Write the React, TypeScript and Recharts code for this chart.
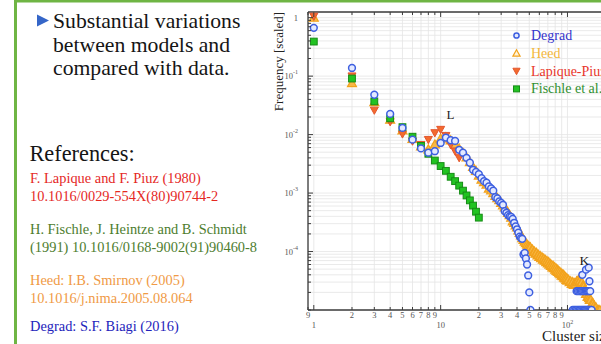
import { CartesianGrid, ReferenceLine, Scatter, ScatterChart, XAxis, YAxis } from "recharts";

// Cluster-size distributions, frequency scaled to the single-electron bin
const degradSize = [
  1, 2, 3, 4, 5, 6, 7, 8, 9, 10, 11, 12, 13, 14, 15, 16, 17, 18, 19, 20,
  21, 22, 23, 24, 25, 26, 27, 28, 29, 30, 31, 32, 33, 34, 35, 36, 37, 38, 39, 40,
  41, 42, 43, 44, 45, 46, 47, 48, 49, 50, 51,
  110, 113, 116, 119, 122, 125, 128, 131, 134, 137, 140, 143, 146, 149, 152, 155,
  118, 121, 124, 127, 130, 133, 136, 139, 142, 145, 148, 151,
  131, 140, 147, 149,
];
const degradFreq = [
  0.67, 0.138, 0.048, 0.0226, 0.013, 0.0082, 0.0058, 0.0049, 0.0052, 0.0072,
  0.0089, 0.008, 0.0078, 0.0055, 0.0049, 0.004, 0.0033, 0.0025, 0.0023, 0.0021,
  0.0018, 0.0016, 0.0015, 0.0013, 0.0012, 0.0011, 0.00085, 0.00081, 0.00072, 0.00068,
  0.00063, 0.00049, 0.00046, 0.00042, 0.0004, 0.00039, 0.00036, 0.00031, 0.00027, 0.00024,
  0.00021, 0.00018, 0.00017, 0.000165, 0.000089, 0.000095, 0.000076, 0.00006, 0.000039, 0.00002,
  0.00001,
  0.00001, 0.00001, 0.00001, 0.00001, 0.00001, 0.00001, 0.00001, 0.00001,
  0.00001, 0.00001, 0.00001, 0.00001, 0.00001, 0.00001, 0.00001, 0.00001,
  0.000021, 0.000021, 0.000021, 0.000021, 0.000021, 0.000021,
  0.000021, 0.000021, 0.000021, 0.000021, 0.000021, 0.000021,
  0.00004, 0.000049, 0.000053, 0.000031,
];

const heedSize = [
  1, 2, 3, 4, 5, 6, 7, 8, 9, 10, 11, 12, 13, 14, 15, 16, 17, 18, 19, 20,
  21, 22, 23, 24, 25, 26, 27, 28, 29, 30, 31, 32, 33, 34, 35, 36, 37, 38, 39, 40,
  41, 42, 43, 44, 45, 46, 47, 48, 49, 50, 51, 52, 53, 54, 55, 56, 57, 58, 59, 60,
  61, 62, 63, 64, 65, 66, 67, 68, 69, 70, 71, 72, 73, 74, 75, 76, 77, 78, 79, 80,
  81, 82, 83, 84, 85, 86, 87, 88, 89, 90, 91, 92, 93, 94, 95, 96, 97, 98, 99, 100,
  102, 104, 106, 108, 110, 112, 114, 116, 118, 120, 122, 124, 126, 128, 130,
  132, 134, 136, 138, 140, 142, 144, 146, 148, 150,
  153, 156, 159, 162, 165, 168, 172, 176, 180,
];
const heedFreq = [
  1.0, 0.076, 0.036, 0.018, 0.0118, 0.0085, 0.0063, 0.0056, 0.0068, 0.0086,
  0.009, 0.008, 0.0068, 0.0058, 0.0049, 0.0041, 0.0034, 0.0028, 0.0024, 0.002,
  0.0017, 0.00155, 0.0014, 0.0012, 0.00112, 0.001, 0.0009, 0.00082, 0.00076, 0.00068,
  0.00062, 0.00057, 0.00052, 0.00046, 0.00042, 0.00038, 0.00033, 0.00031, 0.00028, 0.00026,
  0.00023, 0.00021, 0.00019, 0.00017, 0.000158, 0.000148, 0.00014, 0.000132, 0.000125, 0.00012,
  0.000118, 0.000106, 0.000108, 0.000098, 0.0001, 0.000092, 0.000095, 0.000086, 0.000088, 0.000081,
  0.000084, 0.000077, 0.00008, 0.000073, 0.000076, 0.00007, 0.000072, 0.000066, 0.000069, 0.000063,
  0.000066, 0.00006, 0.000062, 0.000057, 0.000059, 0.000054, 0.000057, 0.000052, 0.000054, 0.000049,
  0.000052, 0.000047, 0.000049, 0.000045, 0.000047, 0.000043, 0.000045, 0.000041, 0.000043, 0.000039,
  0.000041, 0.000038, 0.00004, 0.000036, 0.000038, 0.000035, 0.000036, 0.000033, 0.000035, 0.000032,
  0.000033, 0.00003, 0.000031, 0.000028, 0.00003, 0.000027, 0.000029, 0.000028, 0.000031, 0.00003,
  0.000033, 0.000031, 0.000032, 0.000029, 0.00003,
  0.000026, 0.000025, 0.000022, 0.000021, 0.000019, 0.000019, 0.000017, 0.000017, 0.000016, 0.000015,
  0.000015, 0.000013, 0.000013, 0.000012, 0.000011, 0.000011, 0.00001, 0.00001, 0.00001,
];

const lapiqueSize = [1, 2, 3, 4, 5, 6, 7, 8, 9, 10, 11, 12, 13, 14];
const lapiqueFreq = [
  1.05, 0.1, 0.026, 0.0165, 0.0102, 0.0077, 0.0067, 0.0082, 0.0107, 0.0122,
  0.0096, 0.0067, 0.0052, 0.004,
];

const fischleSize = [1, 2, 3, 4, 5, 6, 7, 8, 9, 10, 11, 12, 13, 14, 15, 16, 17, 18, 19, 20];
const fischleFreq = [
  0.39, 0.091, 0.037, 0.019, 0.0134, 0.0092, 0.0064, 0.0047, 0.0036, 0.0029,
  0.0024, 0.0019, 0.0016, 0.00134, 0.0011, 0.00091, 0.00075, 0.00061, 0.00048, 0.00038,
];

const seriesNames = ["Degrad", "Heed", "Lapique-Piuz", "Fischle et al."];

const xTickValues = [
  0.9, 1, 2, 3, 4, 5, 6, 7, 8, 9, 10, 20, 30, 40, 50, 60, 70, 80, 90, 100, 200, 300,
];
const xTickLabels = [
  "9", "", "2", "3", "4", "5", "6", "7", "8", "9", "", "2", "3", "4", "5", "6", "7", "8", "9", "", "", "",
];
const xDecades = [1, 10, 100];
const xDecadeBase = ["1", "10", "10"];
const xDecadeExp = ["", "", "2"];

const yDecades = [1, 0.1, 0.01, 0.001, 0.0001];
const yDecadeBase = ["1", "10", "10", "10", "10"];
const yDecadeExp = ["", "-1", "-2", "-3", "-4"];
const yTickValues: number[] = [];
for (let e = -5; e <= 0; e++) {
  for (let m = 1; m <= 9; m++) {
    if (e === 0 && m > 1) break;
    yTickValues.push(m * Math.pow(10, e));
  }
}

const SERIF = "'Liberation Serif', 'Times New Roman', 'DejaVu Serif', serif";
const AXIS = "#3c3c3c";
const PLOT_TOP = 12;

const pts = (xs: number[], ys: number[]) => xs.map((size, i) => ({ size, freq: ys[i] }));

const sameValue = (a: number, b: number) => Math.abs(a - b) <= Math.abs(b) * 1e-6;

function XTick(props: any) {
  const { x, y, payload } = props;
  const v = payload.value;
  const i = xTickValues.findIndex((t) => sameValue(t, v));
  const d = xDecades.findIndex((t) => sameValue(t, v));
  const len = d >= 0 ? 5 : 3;
  return (
    <g>
      <line x1={x} x2={x} y1={y} y2={y - len} stroke={AXIS} />
      <line x1={x} x2={x} y1={PLOT_TOP} y2={PLOT_TOP + len} stroke={AXIS} />
      {i >= 0 && xTickLabels[i] && (
        <text x={x} y={y + 8} textAnchor="middle" fontSize={8.5} fill="#555" style={{ fontFamily: SERIF }}>
          {xTickLabels[i]}
        </text>
      )}
      {d >= 0 && (
        <text x={x} y={y + 17.5} textAnchor="middle" fontSize={8.5} fill="#555" style={{ fontFamily: SERIF }}>
          {xDecadeBase[d]}
          {xDecadeExp[d] && (
            <tspan dy={-4} fontSize={6}>
              {xDecadeExp[d]}
            </tspan>
          )}
        </text>
      )}
    </g>
  );
}

function YTick(props: any) {
  const { x, y, payload } = props;
  const v = payload.value;
  const d = yDecades.findIndex((t) => sameValue(t, v));
  const len = d >= 0 ? 5 : 3;
  return (
    <g>
      <line x1={x} x2={x + len} y1={y} y2={y} stroke={AXIS} />
      {d >= 0 && (
        <text x={x - 10} y={y + 3} textAnchor="end" fontSize={8.5} fill="#555" style={{ fontFamily: SERIF }}>
          {yDecadeBase[d]}
          {yDecadeExp[d] && (
            <tspan dy={-5} fontSize={6}>
              {yDecadeExp[d]}
            </tspan>
          )}
        </text>
      )}
    </g>
  );
}

const DEGRAD = { stroke: "#3d5fe0", fill: "#e3e9ff" };
const HEED = { stroke: "#f2a21c", fill: "#f8b846" };
const LAPIQUE = { stroke: "#e4572e", fill: "#f26a2e" };
const FISCHLE = { stroke: "#168c16", fill: "#22c322" };

const circle = (cx: number, cy: number, r: number) => (
  <circle cx={cx} cy={cy} r={r} fill={DEGRAD.fill} stroke={DEGRAD.stroke} strokeWidth={1.5} />
);
const triUp = (cx: number, cy: number, s: number, fill = HEED.fill) => (
  <polygon
    points={`${cx},${cy - s} ${cx + s},${cy + s * 0.8} ${cx - s},${cy + s * 0.8}`}
    fill={fill}
    stroke={HEED.stroke}
    strokeWidth={1.2}
  />
);
const triDown = (cx: number, cy: number, s: number) => (
  <polygon
    points={`${cx - s},${cy - s * 0.8} ${cx + s},${cy - s * 0.8} ${cx},${cy + s}`}
    fill={LAPIQUE.fill}
    stroke={LAPIQUE.stroke}
    strokeWidth={1}
  />
);
const square = (cx: number, cy: number, s: number) => (
  <rect x={cx - s} y={cy - s} width={s * 2} height={s * 2} fill={FISCHLE.fill} stroke={FISCHLE.stroke} strokeWidth={1} />
);

const legendMarks = [
  (cx: number, cy: number) => circle(cx, cy, 2.6),
  (cx: number, cy: number) => triUp(cx, cy, 3.6, "#fff4d8"),
  (cx: number, cy: number) => triDown(cx, cy, 3.6),
  (cx: number, cy: number) => square(cx, cy, 3),
];
const legendColors = ["#3434cc", "#f3b73c", "#e8352a", "#2f8f2f"];

const refs = [
  { lines: ["F. Lapique and F. Piuz (1980)", "10.1016/0029-554X(80)90744-2"], color: "#e5281f", y: 182.5 },
  { lines: ["H. Fischle, J. Heintze and B. Schmidt", "(1991) 10.1016/0168-9002(91)90460-8"], color: "#4d7d2e", y: 233.5 },
  { lines: ["Heed: I.B. Smirnov (2005)", "10.1016/j.nima.2005.08.064"], color: "#f09a45", y: 284.5 },
  { lines: ["Degrad: S.F. Biagi (2016)"], color: "#2323bb", y: 330.5 },
];

export default function App() {
  return (
    <div
      style={{
        position: "fixed",
        left: 0,
        top: 0,
        width: 601,
        height: 344,
        overflow: "hidden",
        background: "#fff",
      }}
    >
      <div style={{ position: "absolute", left: 260, top: 0 }}>
        <ScatterChart width={380} height={344} margin={{ top: PLOT_TOP, right: 12, bottom: 0, left: 0 }}>
          <CartesianGrid stroke="#e4e4e4" strokeWidth={0.8} />
          <XAxis
            dataKey="size"
            type="number"
            scale="log"
            domain={[0.9, 300]}
            allowDataOverflow
            ticks={xTickValues}
            interval={0}
            height={34}
            tickSize={0}
            tickMargin={0}
            tickLine={false}
            axisLine={{ stroke: AXIS, strokeWidth: 1.3 }}
            tick={(p: any) => <XTick {...p} />}
          />
          <YAxis
            dataKey="freq"
            type="number"
            scale="log"
            domain={[0.00001, 1.25]}
            allowDataOverflow
            ticks={yTickValues}
            interval={0}
            width={48}
            tickSize={0}
            tickMargin={0}
            tickLine={false}
            axisLine={{ stroke: AXIS, strokeWidth: 1.3 }}
            tick={(p: any) => <YTick {...p} />}
          />
          <ReferenceLine y={1.25} stroke={AXIS} strokeWidth={1.3} />
          <Scatter
            name={seriesNames[1]}
            data={pts(heedSize, heedFreq)}
            isAnimationActive={false}
            shape={(p: any) => triUp(p.cx, p.cy, 4.5)}
          />
          <Scatter
            name={seriesNames[2]}
            data={pts(lapiqueSize, lapiqueFreq)}
            isAnimationActive={false}
            shape={(p: any) => triDown(p.cx, p.cy, 4)}
          />
          <Scatter
            name={seriesNames[3]}
            data={pts(fischleSize, fischleFreq)}
            isAnimationActive={false}
            shape={(p: any) => square(p.cx, p.cy, 3.4)}
          />
          <Scatter
            name={seriesNames[0]}
            data={pts(degradSize, degradFreq)}
            isAnimationActive={false}
            shape={(p: any) => circle(p.cx, p.cy, 3.4)}
          />
        </ScatterChart>
      </div>

      <svg
        width={601}
        height={344}
        style={{ position: "absolute", left: 0, top: 0, pointerEvents: "none", fontFamily: SERIF }}
      >
        {/* slide frame */}
        <rect x={14} y={0} width={3} height={344} fill="#6fb544" />
        <rect x={14} y={0} width={587} height={2.5} fill="#6fb544" />

        <polygon points="37,14.5 49,20.5 37,26.5" fill="#3566c8" />
        <text x={53} y={28} fontSize={21.7} fill="#151515">Substantial variations</text>
        <text x={53} y={51.5} fontSize={21.7} fill="#151515">between models and</text>
        <text x={53} y={75} fontSize={21.7} fill="#151515">compared with data.</text>

        <text x={29.5} y={160.5} fontSize={22.3} fill="#151515">References:</text>
        {refs.map((r) =>
          r.lines.map((line, k) => (
            <text key={line} x={30} y={r.y + k * 18} fontSize={14.4} fill={r.color}>
              {line}
            </text>
          ))
        )}

        {/* axis titles and peak markers */}
        <text transform="translate(282.5 61.5) rotate(-90)" textAnchor="middle" fontSize={13} fill="#222">
          Frequency [scaled]
        </text>
        <text x={542} y={341} fontSize={15} fill="#222">Cluster size</text>
        <text x={446.5} y={118.5} fontSize={13} fill="#222">L</text>
        <text x={579.5} y={265} fontSize={13.5} fill="#222">K</text>

        {seriesNames.map((name, i) => (
          <g key={name}>
            {legendMarks[i](516.5, 35.5 + i * 17.8)}
            <text x={531} y={40 + i * 17.8} fontSize={14} fill={legendColors[i]}>
              {name}
            </text>
          </g>
        ))}
      </svg>
    </div>
  );
}
